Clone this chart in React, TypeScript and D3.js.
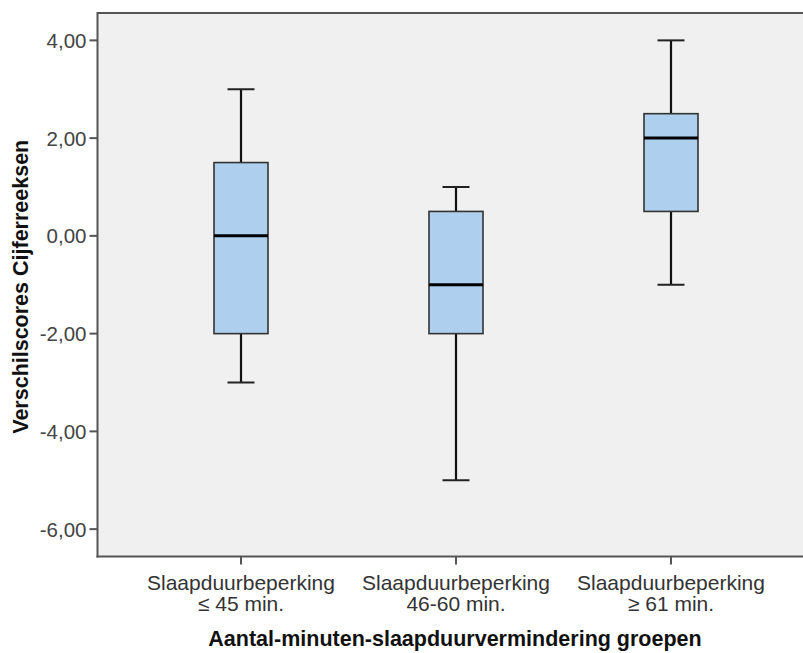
import React from "react";
import * as d3 from "d3";

const categories = ["Slaapduurbeperking\n≤ 45 min.", "Slaapduurbeperking\n46-60 min.", "Slaapduurbeperking\n≥ 61 min."];
const mins = [-3, -5, -1];
const q1s = [-2, -2, 0.5];
const medians = [0, -1, 2];
const q3s = [1.5, 0.5, 2.5];
const maxs = [3, 1, 4];
const yTicks = [4, 2, 0, -2, -4, -6];
const yTitle = "Verschilscores Cijferreeksen";
const xTitle = "Aantal-minuten-slaapduurvermindering groepen";

const W = 803;
const H = 653;
const left = 97.5;
const top = 13;
const right = 803;
const bottom = 556.5;

export default function App() {
  const y = d3.scaleLinear().domain([-6.56, 4.56]).range([bottom, top]);
  const x = d3.scalePoint<string>().domain(categories).range([241, 671]);
  const boxHalf = 27;
  const capHalf = 13.5;
  const fmt = (v: number) => d3.format(".2f")(v).replace(".", ",").replace("\u2212", "-");
  const font = "Arial, 'Liberation Sans', sans-serif";

  return (
    <svg width={W} height={H} style={{ position: "absolute", left: 0, top: 0, background: "#fff" }} fontFamily={font}>
      <rect x={left} y={top} width={right - left} height={bottom - top} fill="#f0f0f0" />
      {categories.map((c, i) => {
        const cx = x(c)!;
        return (
          <g key={c}>
            <line x1={cx} x2={cx} y1={y(maxs[i])} y2={y(q3s[i])} stroke="#111" strokeWidth={2.2} />
            <line x1={cx} x2={cx} y1={y(q1s[i])} y2={y(mins[i])} stroke="#111" strokeWidth={2.2} />
            <line x1={cx - capHalf} x2={cx + capHalf} y1={y(maxs[i])} y2={y(maxs[i])} stroke="#222" strokeWidth={2} />
            <line x1={cx - capHalf} x2={cx + capHalf} y1={y(mins[i])} y2={y(mins[i])} stroke="#222" strokeWidth={2} />
            <rect
              x={cx - boxHalf}
              y={y(q3s[i])}
              width={boxHalf * 2}
              height={y(q1s[i]) - y(q3s[i])}
              fill="#aed0ee"
              stroke="#333"
              strokeWidth={1.6}
            />
            <line x1={cx - boxHalf} x2={cx + boxHalf} y1={y(medians[i])} y2={y(medians[i])} stroke="#000" strokeWidth={3} />
          </g>
        );
      })}
      <line x1={left} x2={right} y1={top} y2={top} stroke="#555" strokeWidth={2} />
      <line x1={left} x2={left} y1={top - 1} y2={bottom + 1} stroke="#555" strokeWidth={2} />
      <line x1={left - 1} x2={right} y1={bottom} y2={bottom} stroke="#555" strokeWidth={2} />
      {yTicks.map((t) => (
        <g key={t}>
          <line x1={left - 8} x2={left} y1={y(t)} y2={y(t)} stroke="#555" strokeWidth={2} />
          <text x={left - 11} y={y(t)} dy="0.36em" textAnchor="end" fontSize={20.5} fill="#444">
            {fmt(t)}
          </text>
        </g>
      ))}
      {categories.map((c) => {
        const cx = x(c)!;
        const lines = c.split("\n");
        return (
          <g key={"t" + c}>
            <line x1={cx} x2={cx} y1={bottom} y2={bottom + 8} stroke="#555" strokeWidth={2} />
            {lines.map((l, j) => (
              <text key={j} x={cx} y={590 + j * 21} textAnchor="middle" fontSize={21} fill="#333">
                {l}
              </text>
            ))}
          </g>
        );
      })}
      <text x={455} y={646} textAnchor="middle" fontSize={21.5} fontWeight="bold" fill="#111">
        {xTitle}
      </text>
      <text
        transform={`translate(28, ${(top + bottom) / 2 + 2}) rotate(-90)`}
        textAnchor="middle"
        fontSize={21.5}
        fontWeight="bold"
        fill="#111"
      >
        {yTitle}
      </text>
    </svg>
  );
}
